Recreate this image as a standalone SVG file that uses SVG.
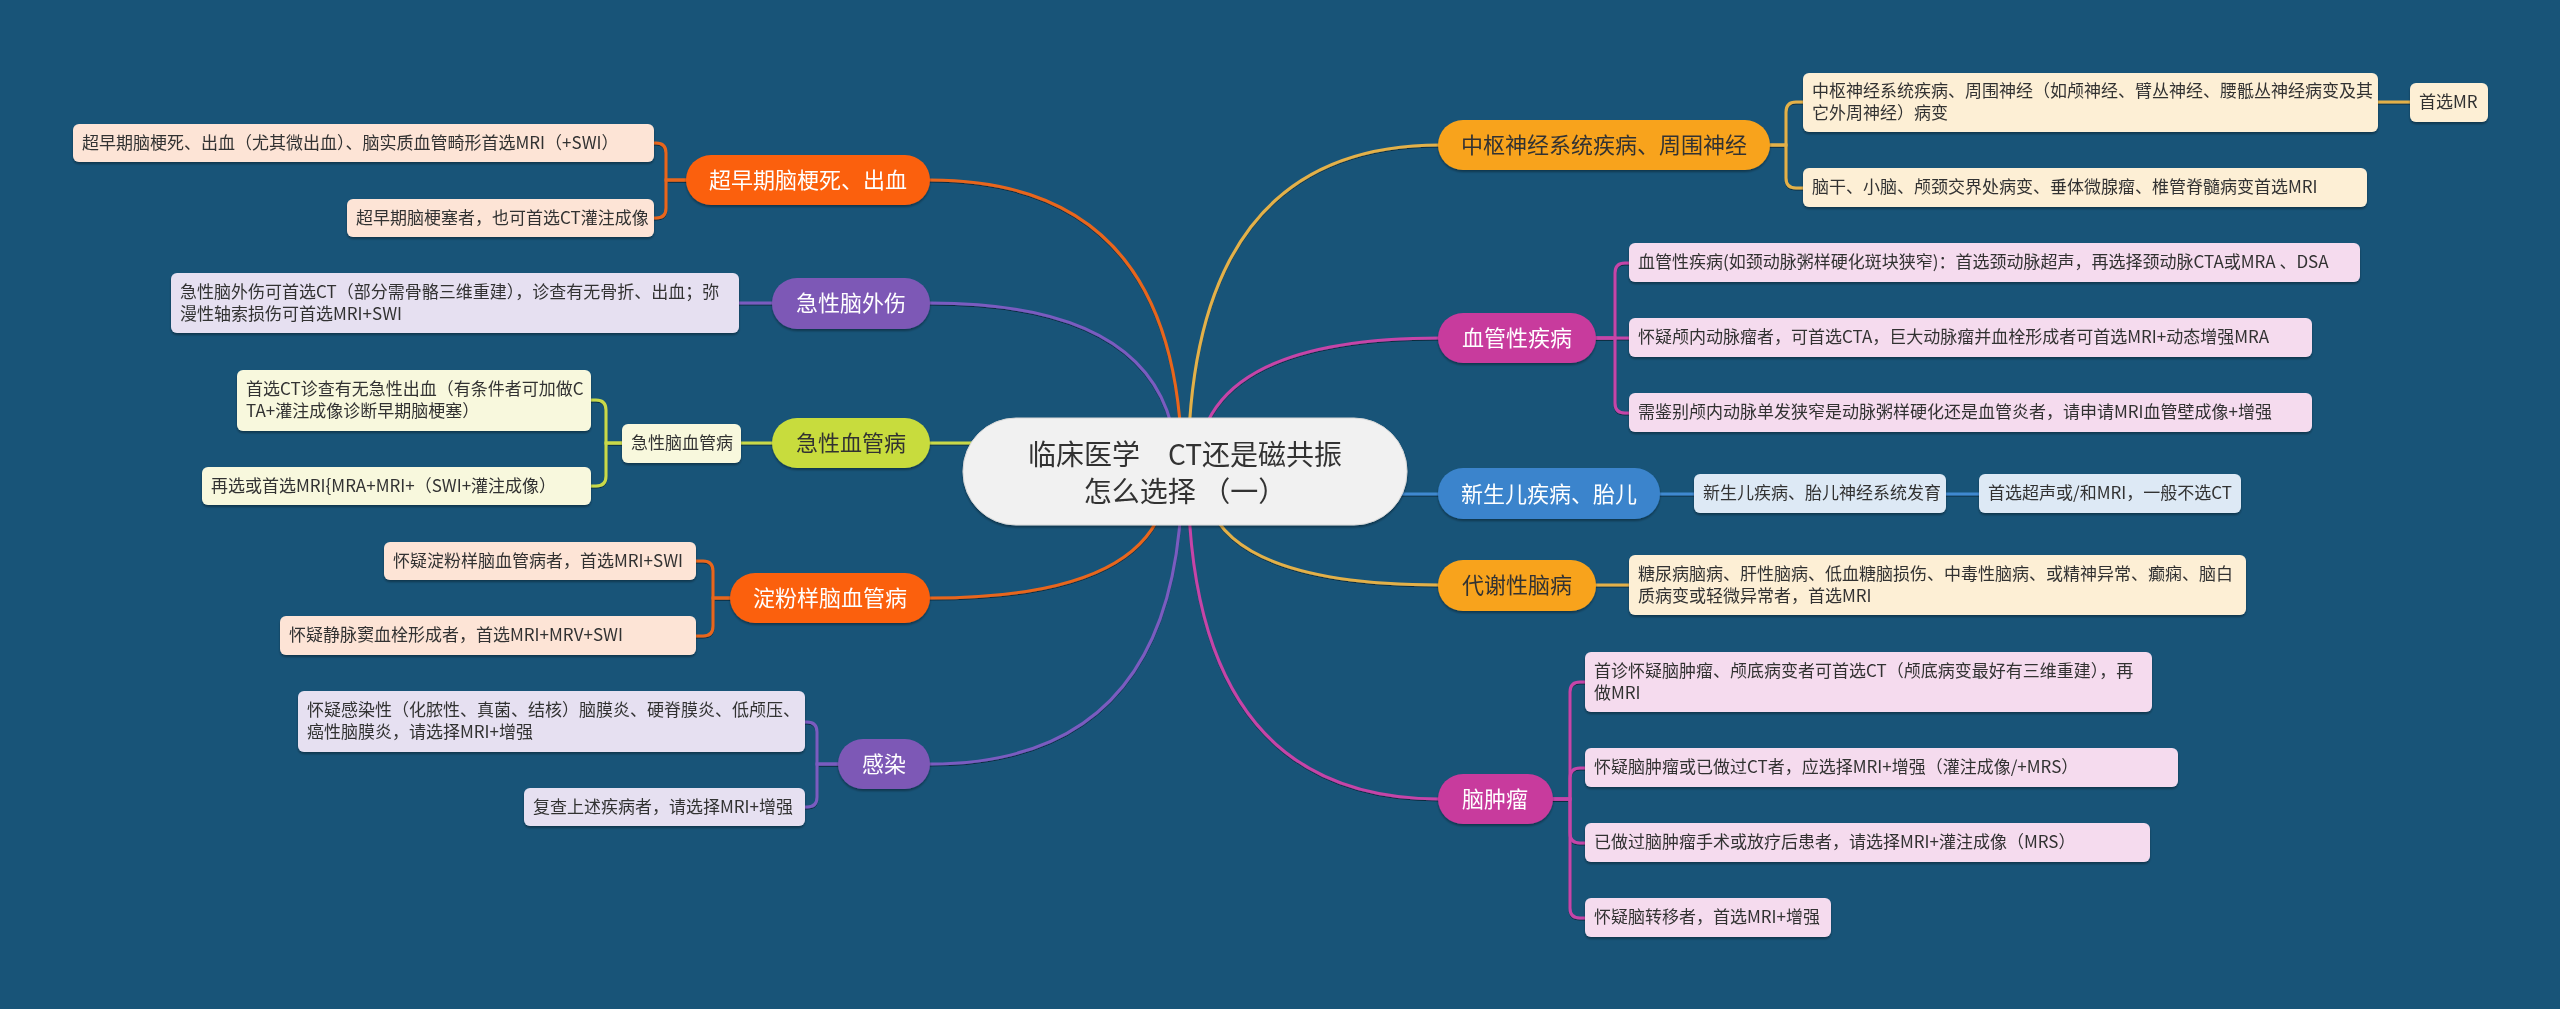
<svg xmlns="http://www.w3.org/2000/svg" width="2560" height="1009" viewBox="0 0 2560 1009">
<defs>
<filter id="sh" x="-10%" y="-20%" width="120%" height="150%">
<feDropShadow dx="0" dy="2" stdDeviation="1" flood-color="#000" flood-opacity="0.35"/>
</filter>
<filter id="lsh" x="-10%" y="-10%" width="120%" height="120%">
<feDropShadow dx="0" dy="1" stdDeviation="0.6" flood-color="#000" flood-opacity="0.5"/>
</filter>
</defs>
<style>
text{font-family:"Noto Sans CJK SC","Noto Sans",sans-serif;}
.leaf text{font-size:17px;fill:#333;}
.main text{font-size:22px;text-anchor:middle;}
.wt{fill:#fff;}
.dk{fill:#333;}
.c{fill:none;stroke-width:3;stroke-linecap:round;}
.or{stroke:#e8661f;}
.pu{stroke:#7a5cc0;}
.yg{stroke:#c9d94a;}
.go{stroke:#e3b14a;}
.mg{stroke:#c544a8;}
.bl{stroke:#3f89d0;}
.fOR{fill:#fb600d;}
.fPU{fill:#7d58b6;}
.fYG{fill:#c8dc3c;}
.fGO{fill:#f8a31c;}
.fMG{fill:#c83a9d;}
.fBL{fill:#3a84cc;}
.lOR{fill:#fde4d6;}
.lPU{fill:#e6e0f1;}
.lYG{fill:#f8f8dd;}
.lGO{fill:#fdefd5;}
.lMG{fill:#f5dbee;}
.lBL{fill:#dde9f5;}
</style>
<rect x="0" y="0" width="2560" height="1009" fill="#185478"/>

<g id="connectors" filter="url(#lsh)">
<!-- center to main -->
<path class="c or" d="M930 180 Q1182 180 1182 472"/>
<path class="c pu" d="M930 303 Q1177 303 1177 472"/>
<path class="c yg" d="M930 443 L1000 443"/>
<path class="c or" d="M930 598 Q1168 598 1168 472"/>
<path class="c pu" d="M930 764 Q1182 764 1182 472"/>
<path class="c go" d="M1440 145 Q1188 145 1188 472"/>
<path class="c mg" d="M1440 338 Q1197 338 1197 472"/>
<path class="c bl" d="M1440 494 L1380 494"/>
<path class="c go" d="M1440 585 Q1203 585 1203 472"/>
<path class="c mg" d="M1440 799 Q1188 799 1188 472"/>
<!-- left brackets -->
<path class="c or" d="M686 180 H666 V153 Q666 143 656 143 H654"/>
<path class="c or" d="M686 180 H666 V208 Q666 218 656 218 H654"/>
<path class="c pu" d="M772 303 H739"/>
<path class="c yg" d="M772 443 H741"/>
<path class="c yg" d="M622 443 H606 V410 Q606 400 596 400 H591"/>
<path class="c yg" d="M622 443 H606 V476 Q606 486 596 486 H591"/>
<path class="c or" d="M730 598 H713 V571 Q713 561 703 561 H696"/>
<path class="c or" d="M730 598 H713 V626 Q713 636 703 636 H696"/>
<path class="c pu" d="M838 764 H817 V732 Q817 722 807 722 H805"/>
<path class="c pu" d="M838 764 H817 V797 Q817 807 807 807 H805"/>
<!-- right brackets -->
<path class="c go" d="M1770 145 H1786 V112 Q1786 102 1796 102 H1803"/>
<path class="c go" d="M1770 145 H1786 V178 Q1786 188 1796 188 H1803"/>
<path class="c go" d="M2378 102 H2410"/>
<path class="c mg" d="M1596 338 H1615 V273 Q1615 263 1625 263 H1629"/>
<path class="c mg" d="M1596 338 H1629"/>
<path class="c mg" d="M1596 338 H1615 V403 Q1615 413 1625 413 H1629"/>
<path class="c bl" d="M1660 494 H1694"/>
<path class="c bl" d="M1946 494 H1979"/>
<path class="c go" d="M1596 585 H1629"/>
<path class="c mg" d="M1553 799 H1570 V692 Q1570 682 1580 682 H1585"/>
<path class="c mg" d="M1553 799 H1570 V778 Q1570 768 1580 768 H1585"/>
<path class="c mg" d="M1553 799 H1570 V833 Q1570 843 1580 843 H1585"/>
<path class="c mg" d="M1553 799 H1570 V908 Q1570 918 1580 918 H1585"/>
</g>

<g id="center" filter="url(#sh)">
<rect x="963" y="418" width="444" height="107" rx="53" fill="#f1f1f1" stroke="#d8d8d8" stroke-width="1"/>
<text x="1185" y="465" font-size="28" text-anchor="middle" fill="#333">临床医学　CT还是磁共振</text>
<text x="1185" y="502" font-size="28" text-anchor="middle" fill="#333">怎么选择 （一）</text>
</g>

<!-- left main nodes -->
<g id="n-chaozaoqi" class="main" filter="url(#sh)">
<rect class="fOR" x="686" y="155" width="244" height="50" rx="25"/>
<text class="wt" x="808" y="188">超早期脑梗死、出血</text>
</g>
<g id="n-naowaishang" class="main" filter="url(#sh)">
<rect class="fPU" x="772" y="278" width="158" height="51" rx="25"/>
<text class="wt" x="851" y="311">急性脑外伤</text>
</g>
<g id="n-xueguanbing" class="main" filter="url(#sh)">
<rect class="fYG" x="772" y="418" width="158" height="50" rx="25"/>
<text class="dk" x="851" y="451">急性血管病</text>
</g>
<g id="n-dianfen" class="main" filter="url(#sh)">
<rect class="fOR" x="730" y="573" width="200" height="50" rx="25"/>
<text class="wt" x="830" y="606">淀粉样脑血管病</text>
</g>
<g id="n-ganran" class="main" filter="url(#sh)">
<rect class="fPU" x="838" y="739" width="92" height="50" rx="25"/>
<text class="wt" x="884" y="772">感染</text>
</g>

<!-- right main nodes -->
<g id="n-zhongshu" class="main" filter="url(#sh)">
<rect class="fGO" x="1438" y="120" width="332" height="50" rx="25"/>
<text class="dk" x="1604" y="153">中枢神经系统疾病、周围神经</text>
</g>
<g id="n-xueguanxing" class="main" filter="url(#sh)">
<rect class="fMG" x="1438" y="313" width="158" height="50" rx="25"/>
<text class="wt" x="1517" y="346">血管性疾病</text>
</g>
<g id="n-xinshenger" class="main" filter="url(#sh)">
<rect class="fBL" x="1438" y="468" width="222" height="51" rx="25"/>
<text class="wt" x="1549" y="502">新生儿疾病、胎儿</text>
</g>
<g id="n-daixie" class="main" filter="url(#sh)">
<rect class="fGO" x="1438" y="560" width="158" height="51" rx="25"/>
<text class="dk" x="1517" y="593">代谢性脑病</text>
</g>
<g id="n-naozhongliu" class="main" filter="url(#sh)">
<rect class="fMG" x="1438" y="774" width="115" height="50" rx="25"/>
<text class="wt" x="1495" y="807">脑肿瘤</text>
</g>

<!-- left leaves -->
<g id="l-1a" class="leaf" filter="url(#sh)">
<rect class="lOR" x="73" y="124" width="581" height="38" rx="6"/>
<text x="82" y="149">超早期脑梗死、出血（尤其微出血）、脑实质血管畸形首选MRI（+SWI）</text>
</g>
<g id="l-1b" class="leaf" filter="url(#sh)">
<rect class="lOR" x="347" y="199" width="307" height="38" rx="6"/>
<text x="356" y="224">超早期脑梗塞者，也可首选CT灌注成像</text>
</g>
<g id="l-2" class="leaf" filter="url(#sh)">
<rect class="lPU" x="171" y="273" width="568" height="60" rx="6"/>
<text x="180" y="298">急性脑外伤可首选CT（部分需骨骼三维重建），诊查有无骨折、出血；弥</text>
<text x="180" y="320">漫性轴索损伤可首选MRI+SWI</text>
</g>
<g id="l-3sub" class="leaf" filter="url(#sh)">
<rect class="lYG" x="622" y="424" width="119" height="39" rx="6"/>
<text x="631" y="449">急性脑血管病</text>
</g>
<g id="l-3a" class="leaf" filter="url(#sh)">
<rect class="lYG" x="237" y="370" width="354" height="61" rx="6"/>
<text x="246" y="395">首选CT诊查有无急性出血（有条件者可加做C</text>
<text x="246" y="417">TA+灌注成像诊断早期脑梗塞）</text>
</g>
<g id="l-3b" class="leaf" filter="url(#sh)">
<rect class="lYG" x="202" y="467" width="389" height="38" rx="6"/>
<text x="211" y="492">再选或首选MRI{MRA+MRI+（SWI+灌注成像）</text>
</g>
<g id="l-4a" class="leaf" filter="url(#sh)">
<rect class="lOR" x="384" y="542" width="312" height="38" rx="6"/>
<text x="393" y="567">怀疑淀粉样脑血管病者，首选MRI+SWI</text>
</g>
<g id="l-4b" class="leaf" filter="url(#sh)">
<rect class="lOR" x="280" y="616" width="416" height="39" rx="6"/>
<text x="289" y="641">怀疑静脉窦血栓形成者，首选MRI+MRV+SWI</text>
</g>
<g id="l-5a" class="leaf" filter="url(#sh)">
<rect class="lPU" x="298" y="691" width="507" height="61" rx="6"/>
<text x="307" y="716">怀疑感染性（化脓性、真菌、结核）脑膜炎、硬脊膜炎、低颅压、</text>
<text x="307" y="738">癌性脑膜炎，请选择MRI+增强</text>
</g>
<g id="l-5b" class="leaf" filter="url(#sh)">
<rect class="lPU" x="524" y="788" width="281" height="38" rx="6"/>
<text x="533" y="813">复查上述疾病者，请选择MRI+增强</text>
</g>

<!-- right leaves -->
<g id="r-1a" class="leaf" filter="url(#sh)">
<rect class="lGO" x="1803" y="73" width="575" height="59" rx="6"/>
<text x="1812" y="97">中枢神经系统疾病、周围神经（如颅神经、臂丛神经、腰骶丛神经病变及其</text>
<text x="1812" y="119">它外周神经）病变</text>
</g>
<g id="r-1a2" class="leaf" filter="url(#sh)">
<rect class="lGO" x="2410" y="83" width="78" height="39" rx="6"/>
<text x="2419" y="108">首选MR</text>
</g>
<g id="r-1b" class="leaf" filter="url(#sh)">
<rect class="lGO" x="1803" y="168" width="564" height="39" rx="6"/>
<text x="1812" y="193">脑干、小脑、颅颈交界处病变、垂体微腺瘤、椎管脊髓病变首选MRI</text>
</g>
<g id="r-2a" class="leaf" filter="url(#sh)">
<rect class="lMG" x="1629" y="243" width="731" height="39" rx="6"/>
<text x="1638" y="268">血管性疾病(如颈动脉粥样硬化斑块狭窄)：首选颈动脉超声，再选择颈动脉CTA或MRA 、DSA</text>
</g>
<g id="r-2b" class="leaf" filter="url(#sh)">
<rect class="lMG" x="1629" y="318" width="683" height="39" rx="6"/>
<text x="1638" y="343">怀疑颅内动脉瘤者，可首选CTA，巨大动脉瘤并血栓形成者可首选MRI+动态增强MRA</text>
</g>
<g id="r-2c" class="leaf" filter="url(#sh)">
<rect class="lMG" x="1629" y="393" width="683" height="39" rx="6"/>
<text x="1638" y="418">需鉴别颅内动脉单发狭窄是动脉粥样硬化还是血管炎者，请申请MRI血管壁成像+增强</text>
</g>
<g id="r-3a" class="leaf" filter="url(#sh)">
<rect class="lBL" x="1694" y="474" width="252" height="39" rx="6"/>
<text x="1703" y="499">新生儿疾病、胎儿神经系统发育</text>
</g>
<g id="r-3b" class="leaf" filter="url(#sh)">
<rect class="lBL" x="1979" y="474" width="262" height="39" rx="6"/>
<text x="1988" y="499">首选超声或/和MRI，一般不选CT</text>
</g>
<g id="r-4a" class="leaf" filter="url(#sh)">
<rect class="lGO" x="1629" y="555" width="617" height="60" rx="6"/>
<text x="1638" y="580">糖尿病脑病、肝性脑病、低血糖脑损伤、中毒性脑病、或精神异常、癫痫、脑白</text>
<text x="1638" y="602">质病变或轻微异常者，首选MRI</text>
</g>
<g id="r-5a" class="leaf" filter="url(#sh)">
<rect class="lMG" x="1585" y="652" width="567" height="60" rx="6"/>
<text x="1594" y="677">首诊怀疑脑肿瘤、颅底病变者可首选CT（颅底病变最好有三维重建），再</text>
<text x="1594" y="699">做MRI</text>
</g>
<g id="r-5b" class="leaf" filter="url(#sh)">
<rect class="lMG" x="1585" y="748" width="593" height="39" rx="6"/>
<text x="1594" y="773">怀疑脑肿瘤或已做过CT者，应选择MRI+增强（灌注成像/+MRS）</text>
</g>
<g id="r-5c" class="leaf" filter="url(#sh)">
<rect class="lMG" x="1585" y="823" width="565" height="39" rx="6"/>
<text x="1594" y="848">已做过脑肿瘤手术或放疗后患者，请选择MRI+灌注成像（MRS）</text>
</g>
<g id="r-5d" class="leaf" filter="url(#sh)">
<rect class="lMG" x="1585" y="898" width="246" height="39" rx="6"/>
<text x="1594" y="923">怀疑脑转移者，首选MRI+增强</text>
</g>
</svg>
